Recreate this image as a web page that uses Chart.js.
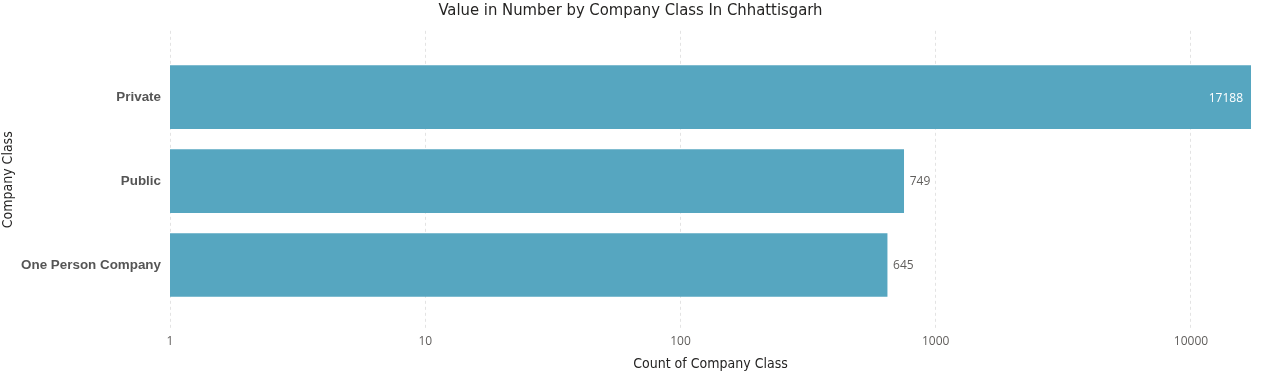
<!DOCTYPE html>
<html>
<head>
<meta charset="utf-8">
<title>Value in Number by Company Class In Chhattisgarh</title>
<script src="https://cdn.jsdelivr.net/npm/chart.js@4/dist/chart.umd.min.js"></script>
<style>
    html, body { margin: 0; padding: 0; background: #ffffff; }
    #wrap { width: 1261px; height: 377px; }
</style>
</head>
<body>
<div id="wrap"><canvas id="chart"></canvas></div>
<script>
// Chart data
const categories = ['Private', 'Public', 'One Person Company'];
const counts = [17188, 749, 645];
const xTicks = [1, 10, 100, 1000, 10000];

const barColor = '#56A6C0';
const textDark = '#252423';
const textGrey = '#605E5C';

// Data labels: outside the bar end, or inside when the bar reaches the edge
const barLabels = {
    id: 'barLabels',
    afterDatasetsDraw(chart) {
        const ctx = chart.ctx;
        const meta = chart.getDatasetMeta(0);
        ctx.save();
        ctx.font = '12px "Open Sans", sans-serif';
        ctx.textBaseline = 'middle';
        meta.data.forEach((bar, i) => {
            const text = String(counts[i]);
            const w = ctx.measureText(text).width;
            if (bar.x + w + 12 > chart.chartArea.right) {
                ctx.fillStyle = '#ffffff';
                ctx.textAlign = 'right';
                ctx.fillText(text, bar.x - 8, bar.y + 1);
            } else {
                ctx.fillStyle = textGrey;
                ctx.textAlign = 'left';
                ctx.fillText(text, bar.x + 6, bar.y + 1);
            }
        });
        ctx.restore();
    }
};

new Chart(document.getElementById('chart'), {
    type: 'bar',
    data: {
        datasets: [{
            data: counts.map((v, i) => ({ x: v, y: i })),
            backgroundColor: barColor,
            borderWidth: 0,
            barThickness: 63
        }]
    },
    options: {
        indexAxis: 'y',
        responsive: true,
        maintainAspectRatio: false,
        animation: false,
        layout: { padding: { left: 0, right: 0, top: 0, bottom: 4 } },
        plugins: {
            legend: { display: false },
            tooltip: { enabled: false },
            title: {
                display: true,
                text: 'Value in Number by Company Class In Chhattisgarh',
                color: textDark,
                font: { family: '"DejaVu Sans Condensed", "DejaVu Sans", sans-serif', size: 16.5, weight: 'normal' },
                padding: { top: 1, bottom: 10 }
            }
        },
        scales: {
            x: {
                type: 'logarithmic',
                min: 1,
                max: 17188,
                grid: {
                    color: '#e3e3e3',
                    lineWidth: 1,
                    drawTicks: false
                },
                border: { display: false, dash: [3, 3] },
                afterBuildTicks(scale) {
                    scale.ticks = xTicks.map(v => ({ value: v }));
                },
                // keep a 10px gap at the right of the plot, but not under the title
                afterFit(scale) { scale.paddingRight = 10; },
                ticks: {
                    color: textGrey,
                    font: { family: '"Open Sans", sans-serif', size: 12 },
                    padding: 6,
                    maxRotation: 0,
                    autoSkip: false,
                    callback: v => String(v)
                },
                title: {
                    display: true,
                    text: 'Count of Company Class',
                    color: textDark,
                    font: { family: '"DejaVu Sans Condensed", "DejaVu Sans", sans-serif', size: 14 },
                    padding: { top: 1, bottom: 0 }
                }
            },
            y: {
                type: 'linear',
                reverse: true,
                offset: false,
                min: -0.79,
                max: 2.76,
                border: { display: false },
                grid: { display: false, drawTicks: false },
                afterFit(scale) { scale.width = 170; },
                afterBuildTicks(scale) {
                    scale.ticks = categories.map((c, i) => ({ value: i }));
                },
                ticks: {
                    color: '#555555',
                    font: { family: '"Liberation Sans", Arial, sans-serif', size: 13.4, weight: 'bold' },
                    padding: 9,
                    autoSkip: false,
                    callback: v => categories[v] || ''
                },
                title: {
                    display: true,
                    text: 'Company Class',
                    color: textDark,
                    font: { family: '"DejaVu Sans Condensed", "DejaVu Sans", sans-serif', size: 14 },
                    padding: { top: 0, bottom: 0 }
                }
            }
        }
    },
    plugins: [barLabels]
});
</script>
</body>
</html>
